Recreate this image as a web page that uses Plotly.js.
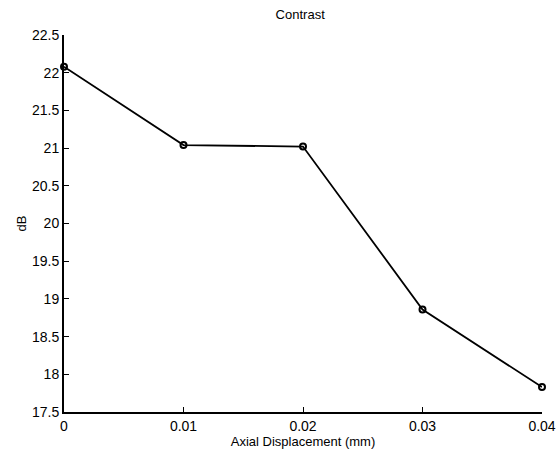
<!DOCTYPE html>
<html>
<head>
<meta charset="utf-8">
<script src="https://cdn.plot.ly/plotly-3.0.1.min.js"></script>
<style>html,body{margin:0;padding:0;background:#fff;}#chart{width:559px;height:460px;}</style>
</head>
<body>
<div id="chart"></div>
<script>
const displacement = [0, 0.01, 0.02, 0.03, 0.04];
const contrastDb = [22.08, 21.04, 21.02, 18.86, 17.83];
const xTicks = [0, 0.01, 0.02, 0.03, 0.04];
const xTickLabels = ['0', '0.01', '0.02', '0.03', '0.04'];
const yTicks = [17.5, 18, 18.5, 19, 19.5, 20, 20.5, 21, 21.5, 22, 22.5];
const yTickLabels = ['17.5', '18', '18.5', '19', '19.5', '20', '20.5', '21', '21.5', '22', '22.5'];

const trace = {
  x: displacement,
  y: contrastDb,
  mode: 'lines+markers',
  line: {color: '#000', width: 1.8},
  marker: {symbol: 'circle-open', size: 6, color: '#000', line: {width: 2, color: '#000'}},
  showlegend: false,
  cliponaxis: false
};

const layout = {
  width: 559, height: 460,
  margin: {l: 64, r: 17, t: 35, b: 48},
  paper_bgcolor: '#fff', plot_bgcolor: '#fff',
  font: {family: 'Liberation Sans, Arial, sans-serif', color: '#000', size: 13},
  title: {text: 'Contrast', x: 0.537, xanchor: 'center', y: 0.978, yanchor: 'top', font: {size: 13}},
  xaxis: {
    range: [0, 0.04], tickvals: xTicks, ticktext: xTickLabels,
    showgrid: false, zeroline: false, showline: true, linecolor: '#000', linewidth: 2,
    ticks: 'inside', ticklen: 5, tickcolor: '#000', tickwidth: 1,
    title: {text: 'Axial Displacement (mm)', font: {size: 13}, standoff: 0},
    tickfont: {size: 14}
  },
  yaxis: {
    range: [17.5, 22.5], tickvals: yTicks, ticktext: yTickLabels,
    showgrid: false, zeroline: false, showline: true, linecolor: '#000', linewidth: 2,
    ticks: 'inside', ticklen: 5, tickcolor: '#000', tickwidth: 1,
    title: {text: 'dB', font: {size: 13}, standoff: 2},
    tickfont: {size: 14}
  }
};

Plotly.newPlot('chart', [trace], layout, {displayModeBar: false, staticPlot: true});
</script>
</body>
</html>
